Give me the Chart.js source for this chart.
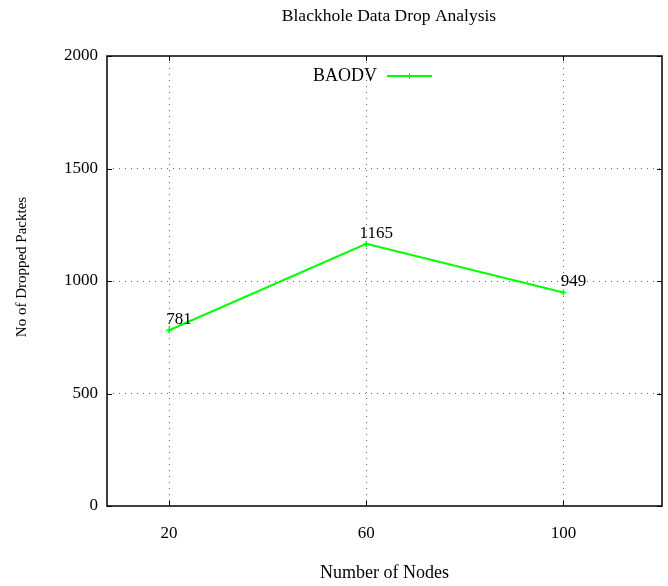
<!DOCTYPE html>
<html><head><meta charset="utf-8">
<script src="https://cdn.jsdelivr.net/npm/chart.js@4/dist/chart.umd.min.js"></script>
<style>html,body{margin:0;padding:0;background:#fff}#wrap{width:668px;height:586px}</style>
</head><body><div id="wrap"><canvas id="c" width="668" height="586"></canvas></div>
<script>
const categories = ['20', '60', '100'];
const baodv = [781, 1165, 949];
const yTicks = [0, 500, 1000, 1500, 2000];
const seriesName = 'BAODV';
const chartTitle = 'Blackhole Data Drop Analysis';
const xTitle = 'Number of Nodes';
const yTitle = 'No of Dropped Packtes';

const SERIF = '"Liberation Serif", "Times New Roman", serif';
const GREEN = '#00ff00';

const extras = {
  id: 'extras',
  afterDatasetsDraw(chart) {
    const ctx = chart.ctx;
    const a = chart.chartArea;
    const xs = chart.scales.x, ys = chart.scales.y;
    ctx.save();
    // frame
    ctx.strokeStyle = '#000';
    ctx.lineWidth = 1.5;
    ctx.strokeRect(a.left, a.top, a.right - a.left, a.bottom - a.top);
    // inward tick marks
    ctx.lineWidth = 1;
    const tl = 5;
    categories.forEach((c, i) => {
      const px = Math.round(xs.getPixelForValue(i)) + 0.5;
      ctx.beginPath();
      ctx.moveTo(px, a.bottom); ctx.lineTo(px, a.bottom - tl);
      ctx.moveTo(px, a.top); ctx.lineTo(px, a.top + tl);
      ctx.stroke();
    });
    yTicks.forEach(v => {
      const py = Math.round(ys.getPixelForValue(v)) + 0.5;
      ctx.beginPath();
      ctx.moveTo(a.left, py); ctx.lineTo(a.left + tl, py);
      ctx.moveTo(a.right, py); ctx.lineTo(a.right - tl, py);
      ctx.stroke();
    });
    // data labels
    ctx.fillStyle = '#000';
    ctx.font = '17px ' + SERIF;
    ctx.textAlign = 'center';
    ctx.textBaseline = 'alphabetic';
    const meta = chart.getDatasetMeta(0);
    meta.data.forEach((pt, i) => {
      ctx.fillText(String(baodv[i]), pt.x + 10, pt.y - 6);
    });
    // legend
    ctx.textAlign = 'right';
    ctx.textBaseline = 'middle';
    ctx.font = '18px ' + SERIF;
    const ly = a.top + 20;
    ctx.fillText(seriesName, 377, ly);
    ctx.strokeStyle = GREEN;
    ctx.lineWidth = 2;
    ctx.beginPath(); ctx.moveTo(387, ly); ctx.lineTo(432, ly); ctx.stroke();
    ctx.lineWidth = 1;
    ctx.beginPath(); ctx.moveTo(409.5, ly - 3); ctx.lineTo(409.5, ly + 3); ctx.moveTo(406.5, ly); ctx.lineTo(412.5, ly); ctx.stroke();
    // chart title
    ctx.textAlign = 'center';
    ctx.textBaseline = 'middle';
    ctx.font = '17.5px ' + SERIF;
    ctx.fillText(chartTitle, 389, 16);
    // y title
    ctx.translate(22, 267);
    ctx.rotate(-Math.PI / 2);
    ctx.font = '15px ' + SERIF;
    ctx.fillText(yTitle, 0, 0);
    ctx.restore();
  }
};

new Chart(document.getElementById('c'), {
  type: 'line',
  data: {
    datasets: [{
      label: seriesName,
      data: baodv.map((v, i) => ({ x: i, y: v })),
      borderColor: GREEN,
      backgroundColor: GREEN,
      borderWidth: 2,
      pointStyle: 'cross',
      pointRadius: 3,
      pointBorderWidth: 1.5,
      tension: 0,
      fill: false
    }]
  },
  options: {
    responsive: false,
    animation: false,
    devicePixelRatio: 1,
    layout: { padding: { top: 56, right: 6, left: 0, bottom: 0 } },
    plugins: {
      legend: { display: false },
      title: { display: false },
      tooltip: { enabled: false }
    },
    scales: {
      x: {
        type: 'linear',
        min: -0.315,
        max: 2.5,
        afterFit(s) { s.height = 80; },
        afterBuildTicks(s) { s.ticks = categories.map((c, i) => ({ value: i })); },
        border: { display: false, dash: [1, 5] },
        grid: {
          drawTicks: false,
          color: '#666',
          lineWidth: 1
        },
        ticks: {
          padding: 17,
          color: '#000',
          font: { family: SERIF, size: 17 },
          callback: (v) => categories[v],
          maxRotation: 0,
          autoSkip: false
        },
        title: {
          display: true,
          text: xTitle,
          color: '#000',
          font: { family: SERIF, size: 18 },
          padding: { top: 0, bottom: 1.5 }
        }
      },
      y: {
        min: 0,
        max: 2000,
        afterFit(s) { s.width = 107; },
        afterBuildTicks(s) { s.ticks = yTicks.map(v => ({ value: v })); },
        border: { display: false, dash: [1, 5] },
        grid: {
          drawTicks: false,
          color: (c) => (c.tick && (c.tick.value === 0 || c.tick.value === 2000)) ? 'rgba(0,0,0,0)' : '#666',
          lineWidth: 1
        },
        ticks: {
          padding: 9,
          color: '#000',
          font: { family: SERIF, size: 17 },
          callback: (v) => String(v)
        }
      }
    }
  },
  plugins: [extras]
});
</script>
</body></html>
